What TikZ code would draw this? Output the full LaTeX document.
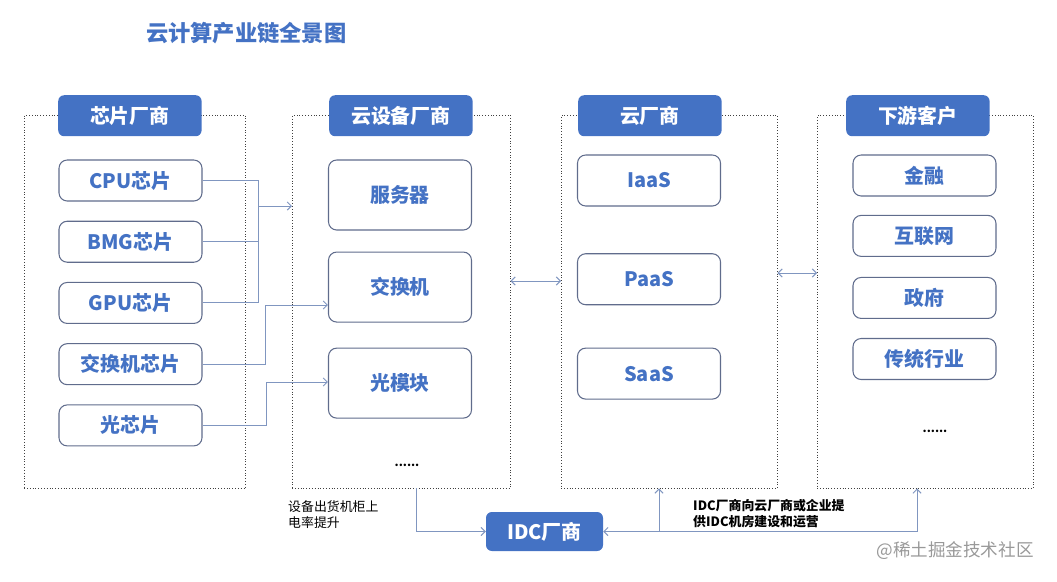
\documentclass[tikz,border=0pt]{standalone}
\usepackage{fontspec}
\setmainfont{Noto Sans CJK SC}
\definecolor{HeadBlue}{RGB}{68, 114, 196}
\definecolor{ItemEdge}{RGB}{96, 108, 140}
\definecolor{LinkBlue}{RGB}{128, 150, 192}
\usetikzlibrary{arrows.meta, positioning, calc}

\begin{document}
\begin{tikzpicture}[
        x=0.03cm, y=-0.03cm,
        node distance=0.575cm,
        >={Straight Barb[length=3.5pt, width=7pt]},
        group/.style={draw=black!75, dotted, anchor=north west, inner sep=0pt, minimum height=11.19cm},
        head/.style={rounded corners=5pt, fill=HeadBlue, text=white, font=\fontsize{17}{20}\selectfont\bfseries, minimum width=4.3cm, minimum height=1.23cm, anchor=north west},
        item/.style={draw=ItemEdge, line width=0.9pt, rounded corners=7pt, fill=white, text=HeadBlue, font=\fontsize{17}{20}\selectfont\bfseries, minimum width=4.29cm, minimum height=1.23cm},
        link/.style={draw=LinkBlue, line width=0.8pt},
        note/.style={font=\fontsize{11}{13.7}\selectfont, align=left, anchor=north west, inner sep=0pt}
    ]
        \useasboundingbox (0,0) rectangle (1057,581);

        \node[anchor=west, text=HeadBlue, font=\fontsize{19}{22}\selectfont\bfseries] (title) at (142,33) {云计算产业链全景图};

        % Frames
        \node[group, minimum width=6.63cm] (chips) at (24,115) {};
        \node[group, minimum width=6.54cm] (devices) at (292,115) {};
        \node[group, minimum width=6.48cm] (clouds) at (561,115) {};
        \node[group, minimum width=6.48cm] (users) at (817,115) {};

        % Headers
        \node[head] (h1) at (58,95) {芯片厂商};
        \node[head] (h2) at (329,95) {云设备厂商};
        \node[head] (h3) at (578,95) {云厂商};
        \node[head] (h4) at (846,95) {下游客户};

        % Chip makers
        \node[item] (cpu) at (130.5,180.5) {CPU芯片};
        \node[item, below=of cpu] (bmg) {BMG芯片};
        \node[item, below=of bmg] (gpu) {GPU芯片};
        \node[item, below=of gpu] (swchip) {交换机芯片};
        \node[item, below=of swchip] (optchip) {光芯片};

        % Device makers
        \node[item, minimum height=2.1cm] (server) at (400,195) {服务器};
        \node[item, minimum height=2.1cm, below=0.63cm of server] (switch) {交换机};
        \node[item, minimum height=2.1cm, below=0.75cm of switch] (optmod) {光模块};
        \node[font=\bfseries] (dots1) at (407,465) {......};

        % Cloud vendors
        \node[item, minimum height=1.53cm] (iaas) at (649,180.5) {IaaS};
        \node[item, minimum height=1.53cm, below=1.4cm of iaas] (paas) {PaaS};
        \node[item, minimum height=1.53cm, below=1.27cm of paas] (saas) {SaaS};

        % Customers
        \node[item] (finance) at (924.5,175.5) {金融};
        \node[item, below=0.55cm of finance] (internet) {互联网};
        \node[item, below=0.6cm of internet] (gov) {政府};
        \node[item, below=0.57cm of gov] (trad) {传统行业};
        \node[font=\bfseries] (dots2) at (935,431) {......};

        \node[head, anchor=center, minimum width=3.51cm, minimum height=1.17cm] (idc) at (544.5,531.5) {IDC厂商};

        % Edges
        \coordinate (j1) at (258,206);
        \coordinate (j2) at (265,305);
        \coordinate (j3) at (266,382);
        \draw[link] (cpu.east) -- (cpu.east -| j1) -- (gpu.east -| j1) -- (gpu.east);
        \draw[link] (bmg.east) -- (bmg.east -| j1);
        \draw[link, ->] (j1) -- (j1 -| devices.west);
        \draw[link, ->] (swchip.east) -| (j2) -- (j2 -| switch.west);
        \draw[link, ->] (optchip.east) -| (j3) -- (j3 -| optmod.west);

        \coordinate (m1) at (536,281);
        \coordinate (m2) at (798,273);
        \draw[link, <->] (m1 -| devices.east) -- (m1 -| clouds.west);
        \draw[link, <->] (m2 -| clouds.east) -- (m2 -| users.west);

        \coordinate (j4) at (416,533);
        \coordinate (j5) at (917,531.5);
        \coordinate (j6) at (659,531.5);
        \draw[link, ->] (j4 |- devices.south) |- (idc.west);
        \draw[link, ->] (j5) -- (idc.east);
        \draw[link, ->] (j5) -- (j5 |- users.south);
        \draw[link, ->] (j6) -- (j6 |- clouds.south);

        \node[note] (n1) at (288,500) {设备出货机柜上\\电率提升};
        \node[note, font=\fontsize{11}{13.7}\selectfont\bfseries] (n2) at (693,499) {IDC厂商向云厂商或企业提\\供IDC机房建设和运营};

        \node[text=black!40, font=\fontsize{15}{18}\selectfont] (mark) at (955,551) {@稀土掘金技术社区};
    \end{tikzpicture}
\end{document}
